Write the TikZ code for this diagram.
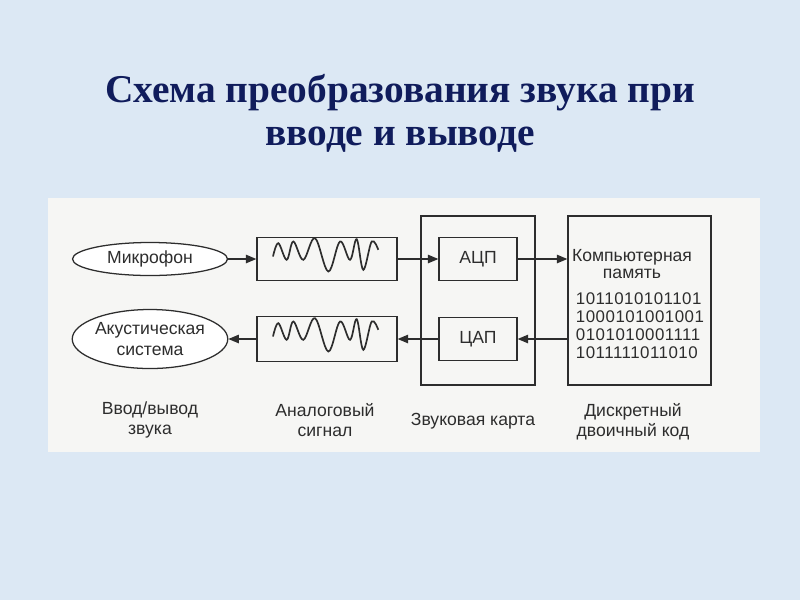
\documentclass[tikz,border=0pt]{standalone}
\usepackage{fontspec}
\setmainfont{Liberation Sans}
\newfontfamily\titlefont{Liberation Serif}
\usepackage{xcolor}
\usepackage{tikz}
\usetikzlibrary{arrows.meta}
\usetikzlibrary{positioning, shapes.geometric}
\definecolor{bgblue}{RGB}{220,232,244}
\definecolor{panel}{RGB}{246,246,244}
\definecolor{ink}{RGB}{45,45,45}
\definecolor{navy}{RGB}{16,28,92}
\tikzset{
device/.style = { ellipse, draw = ink, line width = 0.9pt, fill = white, text = ink, align = center, inner sep = 0pt },
unit/.style = { rectangle, draw = ink, line width = 0.9pt, text = ink, align = center, inner sep = 0pt },
caption/.style = { text = ink, align = center, font = \fontsize{12.5}{14.5}\selectfont },
flow/.style = { draw = ink, line width = 0.9pt, -{Triangle[length = 2.6mm, width = 2.1mm]} },
}
\tikzset{
pics/wave/.style = {
        code = {
        \draw[ink, line width = 1.2pt] plot[smooth, tension = 0.6] coordinates {(-54, -2.5) (-48.7, -15.8) (-40.3, 0.8) (-33.7, -17.5) (-23.7, 0.8) (-12, -20.8) (1.3, 12.5) (13, -17.5) (23, 0.8) (29.7, -19.8) (36.3, 10.8) (44.7, -17.5) (51.3, -9.2)};
        }
    }
}

\begin{document}
\begin{tikzpicture}[x = 0.025cm, y = -0.025cm, font = \fontsize{12.5}{14.5}\selectfont]
    \fill[bgblue] (0, 0) rectangle (800, 600);
    \fill[panel] (48, 198) rectangle (760, 452);
    \node[text = navy, align = center, font = \titlefont\bfseries\fontsize{28}{30.6}\selectfont] (title) at (400, 113) {Схема преобразования звука при\\вводе и выводе};
    % sound input / output
    \node[device, minimum width = 3.875cm, minimum height = 0.825cm] (mic) at (150, 259) {Микрофон};
    \node[device, minimum width = 3.775cm, minimum height = 1.475cm] (spk) at (150, 339) {Акустическая\\система};
    % analog signal
    \node[unit, minimum width = 3.5cm, minimum height = 1.075cm] (wavein) at (327, 259) {};
    \node[unit, minimum width = 3.5cm, minimum height = 1.125cm] (waveout) at (327, 339) {};
    \draw pic at (wavein) {wave};
    \draw pic at (waveout) {wave};
    % sound card
    \node[unit, minimum width = 2.85cm, minimum height = 4.225cm] (card) at (478, 300.5) {};
    \node[unit, minimum width = 1.95cm, minimum height = 1.075cm] (adc) at (478, 259) {АЦП};
    \node[unit, minimum width = 1.95cm, minimum height = 1.075cm] (dac) at (478, 339) {ЦАП};
    % memory
    \node[unit, minimum width = 3.575cm, minimum height = 4.225cm] (mem) at (639.5, 300.5) {};
    \node[text = ink, align = center, font = \fontsize{12.5}{12.5}\selectfont] (memtitle) at (632, 264) {Компьютерная\\память};
    \node[text = ink, align = left, font = \addfontfeature{LetterSpace = 3}\fontsize{12}{12.9}\selectfont] (bits) at (640, 325.5) {1011010101101\\1000101001001\\0101010001111\\1011111011010};
    \draw[flow] (mic) -- (wavein);
    \draw[flow] (wavein) -- (adc);
    \draw[flow] (adc) -- (adc -| mem.west);
    \draw[flow] (dac -| mem.west) -- (dac);
    \draw[flow] (dac) -- (waveout);
    \draw[flow] (waveout) -- (spk);
    % captions
    \node[caption] (lblio) at (150, 420) {Ввод/вывод\\звука};
    \node[caption] (lblan) at (325, 420) {Аналоговый\\сигнал};
    \node[caption] (lblcard) at (473, 421) {Звуковая карта};
    \node[caption] (lblbin) at (633, 422) {Дискретный\\двоичный код};
\end{tikzpicture}
\end{document}
